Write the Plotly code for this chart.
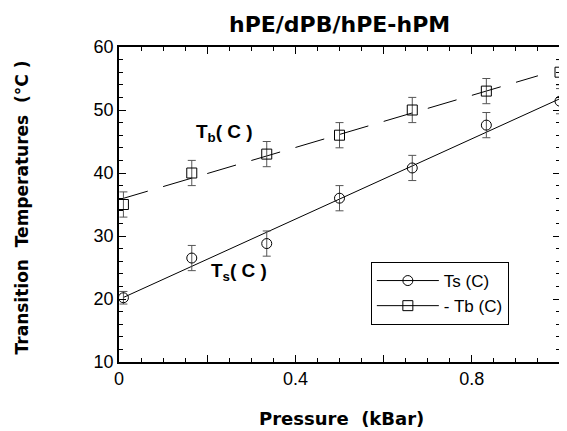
import numpy as np
import plotly.graph_objects as go

# Data
pressure = [0.01, 0.165, 0.335, 0.5, 0.665, 0.833, 1.0]
ts_vals = [20.2, 26.5, 28.8, 36.0, 40.8, 47.6, 51.4]
tb_vals = [35.0, 40.0, 43.0, 46.0, 50.0, 53.0, 56.0]
ts_err = [1.0, 2.0, 2.0, 2.0, 2.0, 2.0, 2.0]
tb_err = [2.0, 2.0, 2.0, 2.0, 2.0, 2.0, 2.0]

x_label_vals = [0, 0.4, 0.8]
x_label_text = ["0", "0.4", "0.8"]
x_major_unlabeled = [0.2, 0.6, 1.0]
y_tickvals = [10, 20, 30, 40, 50, 60]

# Linear regression lines
x_fit = [min(pressure), max(pressure)]
ts_coef = np.polyfit(pressure, ts_vals, 1)
tb_coef = np.polyfit(pressure, tb_vals, 1)
ts_fit = list(np.polyval(ts_coef, x_fit))
tb_x = [0.0, 0.95]
tb_fit = list(np.polyval(tb_coef, tb_x))

FONT = "Liberation Sans, Arial, sans-serif"
ERRC = "#555555"

# page body has an 8px margin: shrink figure so the plot lands where the reference has it
OFF = 8
W, H = 567 - OFF, 431 - OFF
L, R, T, B = 119 - OFF, 5, 47 - OFF, 69
PW, PH = W - L - R, H - T - B


def px_x(px):
    return (px - 119) / PW


def px_y(py):
    return (362 - py) / PH


fig = go.Figure()

fig.add_trace(go.Scatter(x=x_fit, y=ts_fit, mode="lines",
                         line=dict(color="black", width=1), showlegend=False,
                         hoverinfo="skip"))
fig.add_trace(go.Scatter(x=tb_x, y=tb_fit, mode="lines",
                         line=dict(color="black", width=1, dash="30px,16px"),
                         showlegend=False, hoverinfo="skip"))

fig.add_trace(go.Scatter(
    x=pressure, y=ts_vals, mode="markers", showlegend=False, cliponaxis=False,
    marker=dict(symbol="circle-open", size=10, color="black", line=dict(width=1)),
    error_y=dict(type="data", array=ts_err, visible=True, color=ERRC,
                 thickness=1, width=4)))
fig.add_trace(go.Scatter(
    x=pressure, y=tb_vals, mode="markers", showlegend=False, cliponaxis=False,
    marker=dict(symbol="square-open", size=10, color="black", line=dict(width=1)),
    error_y=dict(type="data", array=tb_err, visible=True, color=ERRC,
                 thickness=1, width=4)))

# legend entries
fig.add_trace(go.Scatter(x=[None], y=[None], mode="lines+markers",
                         name="Ts (C)",
                         line=dict(color="black", width=1),
                         marker=dict(symbol="circle-open", size=10, color="black")))
fig.add_trace(go.Scatter(x=[None], y=[None], mode="lines+markers",
                         name="- Tb (C)",
                         line=dict(color="black", width=1),
                         marker=dict(symbol="square-open", size=10, color="black")))

axis_common = dict(showline=True, linecolor="black", linewidth=1.5, mirror="ticks",
                   ticks="inside", ticklen=7, tickwidth=1, tickcolor="black",
                   showgrid=False, zeroline=False,
                   tickfont=dict(family=FONT, size=18, color="black"))

fig.update_xaxes(range=[0, 1.0], tickmode="array", tickvals=x_label_vals,
                 ticktext=x_label_text,
                 minor=dict(dtick=0.05, tick0=0, ticks="inside", ticklen=4,
                            tickcolor="black", tickwidth=1),
                 **axis_common)
fig.update_yaxes(range=[10, 60], tickmode="array", tickvals=y_tickvals,
                 minor=dict(dtick=2, tick0=10, ticks="inside", ticklen=4,
                            tickcolor="black", tickwidth=1),
                 **axis_common)

fig.update_layout(
    xaxis2=dict(overlaying="x", matches="x", anchor="y", side="bottom",
                range=[0, 1.0], tickmode="array", tickvals=x_major_unlabeled,
                showticklabels=False, ticks="inside", ticklen=7, tickwidth=1,
                tickcolor="black", mirror="ticks", showline=True,
                linecolor="black", linewidth=1.5, showgrid=False, zeroline=False),
)
# invisible trace to activate xaxis2
fig.add_trace(go.Scatter(x=[None], y=[None], xaxis="x2", yaxis="y",
                         showlegend=False, hoverinfo="skip"))

fig.update_layout(
    width=W, height=H,
    margin=dict(l=L, r=R, t=T, b=B),
    paper_bgcolor="white", plot_bgcolor="white",
    font=dict(family=FONT, color="black"),
    legend=dict(x=px_x(372), y=px_y(262), xanchor="left", yanchor="top",
                bordercolor="black", borderwidth=1, bgcolor="white",
                font=dict(family=FONT, size=17, color="black"),
                itemwidth=62, tracegroupgap=0),
    annotations=[
        dict(text="<b>hPE/dPB/hPE-hPM</b>", xref="paper", yref="paper",
             x=px_x(340), y=px_y(24), xanchor="center", yanchor="middle",
             showarrow=False,
             font=dict(family="DejaVu Sans", size=22, color="black")),
        dict(text="<b>Pressure  (kBar)</b>", xref="paper", yref="paper",
             x=px_x(343), y=px_y(418), xanchor="center", yanchor="middle",
             showarrow=False,
             font=dict(family="DejaVu Sans", size=18, color="black")),
        dict(text="<b>Transition  Temperatures  (°C )</b>", xref="paper", yref="paper",
             x=px_x(22), y=px_y(207), xanchor="center", yanchor="middle",
             showarrow=False, textangle=-90,
             font=dict(family="DejaVu Sans", size=17, color="black")),
        dict(text="<b>T<sub>b</sub>( C )</b>", xref="x", yref="y",
             x=0.24, y=46.3, showarrow=False, xanchor="center", yanchor="middle",
             font=dict(family=FONT, size=19, color="black")),
        dict(text="<b>T<sub>s</sub>( C )</b>", xref="x", yref="y",
             x=0.273, y=24.3, showarrow=False, xanchor="center", yanchor="middle",
             font=dict(family=FONT, size=19, color="black")),
    ],
)

fig.write_html("out.html")
